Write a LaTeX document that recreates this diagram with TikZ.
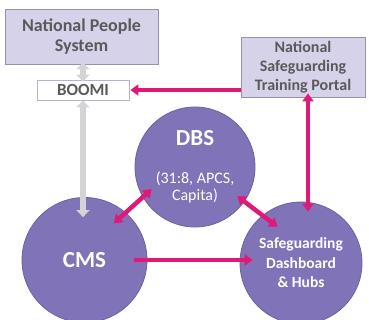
\documentclass[tikz,border=0pt]{standalone}
\usepackage{fontspec}
\setmainfont{Carlito}
\usetikzlibrary{shapes,arrows.meta}
\definecolor{circlefill}{RGB}{128,115,184}
\definecolor{circleedge}{RGB}{108,97,162}
\definecolor{boxfill}{RGB}{214,210,234}
\definecolor{boxedge}{RGB}{150,145,178}
\definecolor{boxtext}{RGB}{90,90,90}
\definecolor{pinkline}{RGB}{226,24,120}
\definecolor{greyline}{RGB}{212,212,212}
\tikzstyle{box} = [draw=boxedge, fill=boxfill, line width=0.8pt, align=center,
  text=boxtext, font=\fontsize{18}{20}\selectfont\bfseries, inner sep=0pt]
\tikzstyle{whitebox} = [box, fill=white, draw=boxedge!70]
\tikzstyle{ball} = [draw=circleedge, fill=circlefill, circle, line width=0.8pt,
  text=white, align=center, inner sep=0pt]
\tikzstyle{pinkarrow} = [draw=pinkline, line width=4.5pt]
\tikzstyle{greyarrow} = [draw=greyline, line width=5.5pt,
  >={Triangle[width=13pt,length=7pt]}]

\begin{document}
\begin{tikzpicture}[x=1pt,y=-1pt,>={Triangle[width=11pt,length=8pt]}]
\useasboundingbox (0,0) rectangle (369,320);

% boxes
\node[box, minimum width=153, minimum height=55] (nps) at (81.5,36.5) {National People\\System};
\node[whitebox, minimum width=92, minimum height=20, font=\fontsize{17}{17}\selectfont\bfseries]
  (boomi) at (83,90) {BOOMI};
\node[box, minimum width=124, minimum height=60, font=\fontsize{16}{19}\selectfont\bfseries]
  (nstp) at (303,67) {National\\Safeguarding\\Training Portal};

% circles
\node[ball, minimum size=120, font=\fontsize{16}{17}\selectfont] (dbs) at (195,167)
  {{\fontsize{23}{23}\selectfont\bfseries DBS}\\[21pt]
   (31:8, APCS,\\Capita)};
\node[ball, minimum size=125, font=\fontsize{23}{23}\selectfont\bfseries] (cms) at (84.5,260) {CMS};
\node[ball, minimum size=122, font=\fontsize{15.5}{19.5}\selectfont\bfseries] (sdh) at (301,263)
  {Safeguarding\\Dashboard\\\& Hubs};

\path
(boomi.north |- nps.south) edge [greyarrow,<->, shorten <=-2pt, shorten >=-2pt] (boomi.north)
(boomi.south) edge [greyarrow,<->, shorten >=-20pt] (boomi.south |- cms.north)
(nstp.west |- boomi.east) edge [pinkarrow,->, shorten >=1pt] (boomi.east)
([xshift=5pt]nstp.south) edge [pinkarrow,<->, shorten <=-4pt, shorten >=-10pt] ([xshift=5pt]nstp.south |- sdh.north)
(cms.49) edge [pinkarrow,<->, shorten <=-16pt, shorten >=-12pt] (dbs.210)
(dbs.-35) edge [pinkarrow,<->, shorten <=-9pt, shorten >=-19pt] (sdh.129)
(cms.east) edge [pinkarrow,->, shorten <=-13pt, shorten >=-13pt] (sdh.west |- cms.east);

\end{tikzpicture}
\end{document}
